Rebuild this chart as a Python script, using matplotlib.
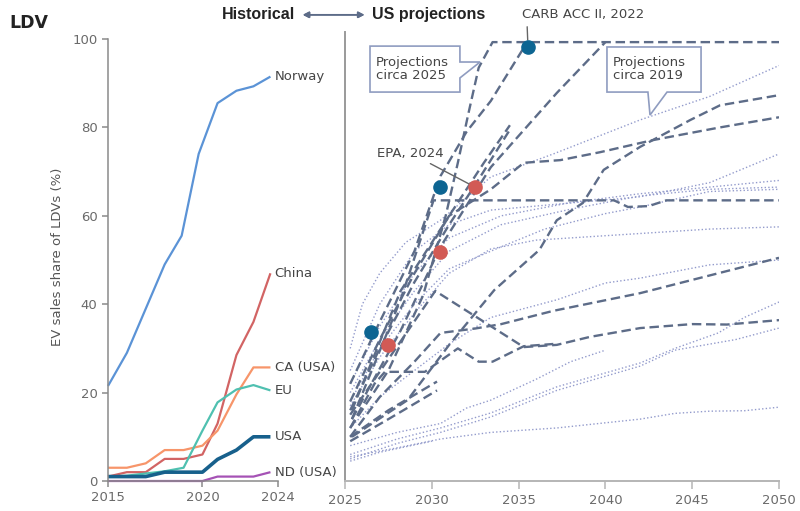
import matplotlib
matplotlib.use("Agg")
import matplotlib.pyplot as plt
from matplotlib.patches import Polygon

plt.rcParams["font.family"] = ["DejaVu Sans"]

# ---- historical EV sales share (%) ----
hist_x = [2015, 2016, 2017, 2018, 2019, 2020, 2020.8, 2021.8, 2022.7, 2023.6]
norway_x = [2015, 2016, 2017, 2018, 2018.9, 2019.8, 2020.8, 2021.8, 2022.7, 2023.6]
norway = [21.5, 29, 39, 49, 55.5, 74, 85.5, 88.3, 89.3, 91.5]
china = [1, 2, 2, 5, 5, 6, 13, 28.5, 36, 47]
ca_usa = [3, 3, 4, 7, 7, 8, 11.4, 19.6, 25.7, 25.7]
eu = [1, 1.2, 1.7, 2.2, 3, 11.4, 17.8, 20.7, 21.7, 20.5]
usa = [1, 1, 1, 2, 2, 2, 4.9, 7, 10, 10]
nd_usa = [0, 0, 0, 0, 0, 0, 1, 1, 1, 2]

hist_series = [
    ("Norway", norway_x, norway, "#5b93d6", 1.6),
    ("China", hist_x, china, "#d26464", 1.6),
    ("CA (USA)", hist_x, ca_usa, "#f7956a", 1.6),
    ("EU", hist_x, eu, "#4fc0b0", 1.6),
    ("USA", hist_x, usa, "#17608c", 2.6),
    ("ND (USA)", hist_x, nd_usa, "#a552b5", 1.6),
]

# ---- US projections circa 2025 (dashed) ----
proj2025 = [
    ([2025.3, 2027.5, 2029.5, 2030.8, 2031.5, 2032.1, 2032.7, 2033.5, 2050],
     [12, 25, 42, 60, 72, 83, 93.5, 99.3, 99.3]),
    ([2025.3, 2027, 2029, 2030.5, 2032, 2033.4, 2035.5],
     [22, 36, 52, 69, 79, 86, 99.3]),
    ([2025.4, 2028.2, 2030.5, 2033.4, 2035.3, 2037.2, 2040],
     [14, 34, 53, 71, 79.4, 87.8, 99.3]),
    ([2025.4, 2028.6, 2031.0, 2033.6, 2036.2, 2037.2, 2038.7, 2039.9, 2042.0, 2044.9, 2046.6, 2050],
     [10, 18.3, 30.8, 43.2, 52.3, 59, 62.9, 70.4, 75.6, 81.7, 85, 87.3]),
    ([2025.4, 2028.2, 2031, 2033.4, 2035.3, 2037.4, 2039.7, 2042.7, 2044.3, 2046.6, 2050],
     [16, 43, 60, 66, 72, 72.6, 74.4, 77.1, 78.3, 80, 82.3]),
    ([2025.4, 2028.2, 2030.1, 2040.5, 2041.3, 2042.5, 2043.5, 2050],
     [14, 41, 63.5, 63.5, 62, 62.2, 63.5, 63.5]),
    ([2025.3, 2030.2, 2035.3, 2037.2, 2039.1, 2042, 2045, 2047, 2050],
     [15, 43, 30.3, 30.8, 32.6, 34.6, 35.5, 35.4, 36.4]),
    ([2025.3, 2027, 2029, 2030.5, 2032.5, 2034, 2037, 2042, 2046, 2050],
     [10, 19, 27, 33.5, 34.5, 35.5, 38.5, 42.5, 46.5, 50.5]),
    ([2025.3, 2026.7, 2027.3, 2029.6, 2031.5, 2032.7, 2033.5, 2035.3, 2037],
     [12, 22, 24.7, 24.7, 30, 27, 27, 30.5, 31]),
    ([2025.3, 2027.5, 2030.3], [9, 14, 20.5]),
    ([2025.3, 2027.5, 2030.3], [10, 16, 22.5]),
    ([2025.3, 2027, 2029, 2031, 2032.5, 2034.5], [16, 30, 45, 58, 67, 79.5]),
    ([2025.3, 2027, 2029, 2031, 2033, 2034.5], [18, 32, 47, 60, 72, 80.5]),
]

# ---- US projections circa 2019 (dotted) ----
proj2019 = [
    ([2025.3, 2026, 2027, 2028.5, 2030.5, 2033.4, 2037, 2042, 2046, 2050],
     [30, 40, 47, 54, 59, 68.8, 74, 81.7, 87, 94]),
    ([2025.3, 2027, 2029, 2031, 2033.4, 2042, 2046, 2050],
     [25, 40, 52, 58, 61.3, 64.3, 67.5, 74]),
    ([2025.3, 2027, 2029, 2031, 2034, 2038, 2042, 2046, 2050],
     [22, 35, 47, 55, 60, 63, 65, 66.5, 68]),
    ([2025.3, 2027, 2029, 2031, 2034, 2038, 2042, 2046, 2050],
     [20, 32, 43, 52, 58, 61.5, 64.5, 66, 66.5]),
    ([2025.3, 2027, 2029, 2031, 2034, 2036.5, 2040, 2042, 2046, 2050],
     [18, 30, 40, 48, 53, 57, 60.5, 62, 65.5, 66]),
    ([2025.3, 2027, 2029, 2031, 2033.4, 2036, 2042, 2046, 2050],
     [17, 28, 38, 47, 52.5, 54.5, 56, 57, 57.5]),
    ([2025.3, 2027, 2029, 2031, 2033.4, 2037.2, 2040, 2042, 2046, 2050],
     [12, 19, 25, 31, 37, 41, 44.8, 45.9, 48.9, 50]),
    ([2025.3, 2028, 2030.5, 2032, 2033.4, 2036, 2038, 2040],
     [8, 11, 13, 16.5, 18.3, 23, 27, 29.6]),
    ([2025.3, 2028, 2030.5, 2033.4, 2037.2, 2042, 2044, 2046.5, 2048, 2050],
     [6, 9.5, 12, 15.4, 21.3, 26.7, 30, 33.5, 37, 40.5]),
    ([2025.3, 2028, 2030.5, 2033.4, 2037.2, 2042, 2044, 2047.5, 2050],
     [5, 8.5, 11, 14.5, 20.5, 26, 29.6, 32, 34.6]),
    ([2025.3, 2028, 2030.5, 2033.4, 2037.2, 2042, 2044, 2046, 2048, 2050],
     [5.5, 7.5, 9.5, 11, 12, 14, 15.3, 15.8, 15.9, 16.7]),
    ([2025.3, 2027, 2030], [4.5, 6.5, 9]),
]

# ---- policy targets ----
carb_x = [2026.5, 2030.47, 2035.54]
carb_y = [33.7, 66.5, 98.2]
epa_x = [2027.48, 2030.47, 2032.49]
epa_y = [30.8, 51.8, 66.5]

fig = plt.figure(figsize=(8, 5.11), dpi=100)
ax1 = fig.add_axes([0.135, 0.0587, 0.2125, 0.8779])
ax2 = fig.add_axes([0.43125, 0.0587, 0.5425, 0.8779])

grey = "#8a8a8a"
txt = "#454545"
fs = 9.5

for name, xs, ys, col, lw in hist_series:
    ax1.plot(xs, ys, color=col, lw=lw, solid_capstyle="butt", clip_on=False)
    ax1.annotate(name, (xs[-1], ys[-1]), xytext=(3, 0), textcoords="offset points",
                 va="center", ha="left", fontsize=fs, color=txt, annotation_clip=False)

ax1.set_xlim(2015, 2024)
ax1.set_ylim(0, 101.5)
ax1.set_xticks([2015, 2020, 2024])
ax1.set_yticks([0, 20, 40, 60, 80, 100])
ax1.spines[["top", "right"]].set_visible(False)
ax1.spines["left"].set_bounds(0, 100)
for s in ["left", "bottom"]:
    ax1.spines[s].set_color(grey)
    ax1.spines[s].set_linewidth(1.1)
ax1.tick_params(colors=grey, labelcolor="#6a6a6a", labelsize=fs, length=4, width=1.1)
ax1.set_ylabel("EV sales share of LDVs (%)", color="#555555", fontsize=fs, labelpad=6)

for xs, ys in proj2019:
    ax2.plot(xs, ys, color="#939bcc", lw=1.0, ls=(0, (1, 1.6)))
for xs, ys in proj2025:
    ax2.plot(xs, ys, color="#5d6c88", lw=1.7, ls=(0, (4, 2)))

ax2.plot(carb_x, carb_y, "o", color="#0d6592", ms=9.5, zorder=5)
ax2.plot(epa_x, epa_y, "o", color="#d25a55", ms=9.5, zorder=5)

ax2.set_xlim(2025, 2050)
ax2.set_ylim(0, 101.5)
ax2.set_xticks([2025, 2030, 2035, 2040, 2045, 2050])
ax2.set_yticks([])
ax2.spines[["top", "right"]].set_visible(False)
ax2.spines["left"].set_color("#9a9a9a")
ax2.spines["left"].set_linewidth(1.4)
ax2.spines["bottom"].set_color("#b5b5b5")
ax2.spines["bottom"].set_linewidth(1.4)
ax2.tick_params(colors="#b5b5b5", labelcolor="#6a6a6a", labelsize=fs, length=6, width=1.1)

# callout boxes
box_kw = dict(closed=True, facecolor="white", edgecolor="#8f9cc0", lw=1.2, zorder=6,
              clip_on=False)
ax2.add_patch(Polygon([(2026.44, 98.4), (2031.62, 98.4), (2031.62, 94.8), (2032.78, 94.8),
                       (2031.62, 91.2), (2031.62, 88.0), (2026.44, 88.0)], **box_kw))
ax2.text(2026.8, 93.2, "Projections\ncirca 2025", fontsize=fs, color=txt, va="center",
         ha="left", linespacing=1.05, zorder=7)
ax2.add_patch(Polygon([(2040.09, 98.2), (2045.51, 98.2), (2045.51, 88.0), (2043.55, 88.0),
                       (2042.57, 82.8), (2042.45, 88.0), (2040.09, 88.0)], **box_kw))
ax2.text(2040.45, 93.2, "Projections\ncirca 2019", fontsize=fs, color=txt, va="center",
         ha="left", linespacing=1.05, zorder=7)

# marker labels
ax2.annotate("EPA, 2024", xy=(epa_x[2], epa_y[2]), xytext=(2026.84, 74.2), fontsize=fs,
             color=txt, va="center", ha="left",
             arrowprops=dict(arrowstyle="-", color="#666666", lw=1.0, shrinkB=5))
ax2.annotate("CARB ACC II, 2022", xy=(carb_x[2], carb_y[2]), xytext=(2035.2, 105.5),
             fontsize=fs, color=txt, va="center", ha="left", annotation_clip=False,
             arrowprops=dict(arrowstyle="-", color="#666666", lw=1.0, shrinkB=5,
                             relpos=(0.04, 0)))

# header
head = ["Liberation Sans", "DejaVu Sans"]
fig.text(0.012, 0.955, "LDV", fontsize=12.5, fontweight="bold", color="#222222",
         va="center")
fig.text(0.369, 0.971, "Historical", fontsize=11.5, fontweight="bold", color="#222222",
         family=head, va="center", ha="right")
fig.text(0.465, 0.971, "US projections", fontsize=11.5, fontweight="bold", color="#222222",
         family=head, va="center", ha="left")
fig.add_artist(plt.annotate("", xy=(0.459, 0.971), xytext=(0.375, 0.971),
                            xycoords="figure fraction",
                            arrowprops=dict(arrowstyle="<|-|>,head_length=0.35,head_width=0.18",
                                            color="#5d6c88", lw=1.2)))

fig.savefig("out.png", dpi=100)
